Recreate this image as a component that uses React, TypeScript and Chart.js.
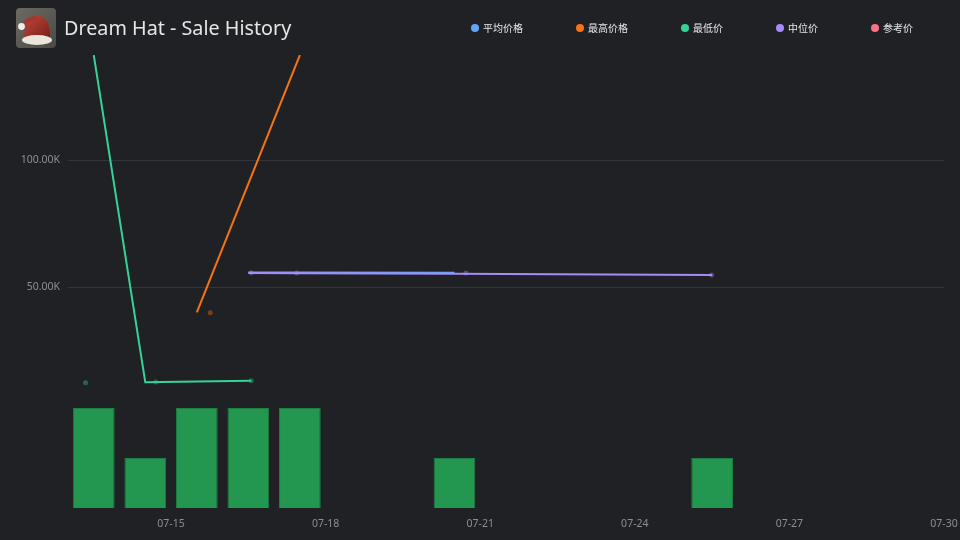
import React, { useEffect, useRef } from "react";
import { Chart, registerables } from "chart.js";

Chart.register(...registerables);

// ---------- data ----------
const TITLE = "Dream Hat - Sale History";
const seriesLabels = ["平均价格", "最高价格", "最低价", "中位价", "参考价"];
const seriesColors = ["#60a5fa", "#f97316", "#34d399", "#a78bfa", "#fb7185"];

// daily volume (bars), timestamps "MM-DD HH:mm"
const volumeTimes = ["07-13 12:00", "07-14 12:00", "07-15 12:00", "07-16 12:00", "07-17 12:00", "07-20 12:00", "07-25 12:00"];
const volumeValues = [2, 1, 2, 2, 2, 1, 1];

// price lines
const avgTimes = ["07-16 12:00", "07-17 12:00", "07-20 12:00"];
const avgValues = [55750, 55700, 55600];

const maxTimes = ["07-15 12:00", "07-17 12:00"];
const maxValues = [40000, 141300];

const minTimes = ["07-13 12:00", "07-14 12:00", "07-15 12:00", "07-16 13:20"];
const minValues = [141300, 12480, 12800, 13100];

const medTimes = ["07-16 12:00", "07-17 12:00", "07-20 12:00", "07-25 12:00"];
const medValues = [55500, 55400, 55200, 54700];

const refTimes: string[] = [];
const refValues: number[] = [];

// individual sales (faint dots)
const saleMinTimes = ["07-13 08:10", "07-14 16:50", "07-16 13:20"];
const saleMinValues = [12300, 12600, 13100];
const saleMaxTimes = ["07-15 18:15"];
const saleMaxValues = [39900];
const saleMedTimes = ["07-16 13:20", "07-17 10:35", "07-20 17:20", "07-25 11:45"];
const saleMedValues = [55600, 55500, 55500, 54700];

// axes
const xMinDay = 13;
const xMaxDay = 30;
const xTickDays = [15, 18, 21, 24, 27, 30];
const xTickLabels = ["07-15", "07-18", "07-21", "07-24", "07-27", "07-30"];
const yMin = -37000;
const yMax = 141340;
const yTickValues = [50000, 100000];
const volumeMax = 9.06;

// ---------- helpers ----------
function toDay(t: string): number {
  const [md, hm] = t.split(" ");
  const d = parseInt(md.split("-")[1], 10);
  const [h, m] = hm.split(":").map((s) => parseInt(s, 10));
  return d + (h + m / 60) / 24;
}
function pts(times: string[], values: number[]) {
  return times.map((t, i) => ({ x: toDay(t), y: values[i] }));
}
function alpha(hex: string, a: number) {
  const n = parseInt(hex.slice(1), 16);
  return `rgba(${(n >> 16) & 255},${(n >> 8) & 255},${n & 255},${a})`;
}

const BG = "#202124";
const TICK_COLOR = "#8b8e94";
const GRID_COLOR = "#333539";

function HatIcon() {
  return (
    <svg width="40" height="40" viewBox="0 0 40 40">
      <defs>
        <linearGradient id="bgG" x1="0" y1="0" x2="1" y2="1">
          <stop offset="0" stopColor="#6b6a63" />
          <stop offset="1" stopColor="#4a4944" />
        </linearGradient>
        <linearGradient id="hatG" x1="0" y1="0" x2="1" y2="1">
          <stop offset="0" stopColor="#c0463a" />
          <stop offset="1" stopColor="#7a1f18" />
        </linearGradient>
      </defs>
      <rect x="0" y="0" width="40" height="40" rx="4" fill="url(#bgG)" />
      <path d="M8 30 C8 20 12 9 21 8 C29 7 33 14 34 25 L34 31 Z" fill="url(#hatG)" />
      <path d="M21 8 C14 8 9 11 6 16 L8 19 C11 14 15 12 20 12 Z" fill="#a8352b" />
      <ellipse cx="21" cy="32" rx="15" ry="5" fill="#e9e6de" />
      <circle cx="5.5" cy="18.5" r="3.4" fill="#f1eee8" />
    </svg>
  );
}

export default function App() {
  const canvasRef = useRef<HTMLCanvasElement | null>(null);

  useEffect(() => {
    document.body.style.margin = "0";
    document.body.style.background = BG;
    const canvas = canvasRef.current;
    if (!canvas) return;

    const lineDs = (label: string, color: string, data: { x: number; y: number }[], order: number) => ({
      type: "line" as const,
      label,
      data,
      borderColor: color,
      backgroundColor: color,
      borderWidth: 2,
      pointRadius: 0,
      tension: 0,
      yAxisID: "y",
      order,
    });
    const dotDs = (color: string, data: { x: number; y: number }[]) => ({
      type: "scatter" as const,
      label: "_sale",
      data,
      backgroundColor: alpha(color, 0.38),
      borderWidth: 0,
      pointRadius: 2.5,
      showLine: false,
      yAxisID: "y",
      order: 0,
    });

    const chart = new Chart(canvas, {
      type: "line",
      data: {
        datasets: [
          lineDs(seriesLabels[0], seriesColors[0], pts(avgTimes, avgValues), 3),
          lineDs(seriesLabels[1], seriesColors[1], pts(maxTimes, maxValues), 2),
          lineDs(seriesLabels[2], seriesColors[2], pts(minTimes, minValues), 2),
          lineDs(seriesLabels[3], seriesColors[3], pts(medTimes, medValues), 1),
          lineDs(seriesLabels[4], seriesColors[4], pts(refTimes, refValues), 2),
          dotDs(seriesColors[2], pts(saleMinTimes, saleMinValues)),
          dotDs(seriesColors[1], pts(saleMaxTimes, saleMaxValues)),
          dotDs(seriesColors[3], pts(saleMedTimes, saleMedValues)),
          {
            type: "bar" as const,
            label: "_volume",
            data: pts(volumeTimes, volumeValues),
            backgroundColor: "#23964f",
            borderColor: "#1e7f44",
            borderWidth: 1,
            barPercentage: 0.9,
            categoryPercentage: 0.9,
            yAxisID: "y1",
            order: 10,
          } as any,
        ],
      },
      options: {
        animation: false,
        responsive: false,
        maintainAspectRatio: false,
        layout: { padding: { top: 55, right: 16, left: 0, bottom: 0 } },
        plugins: {
          legend: { display: false },
          title: { display: false },
          tooltip: { enabled: false },
        },
        scales: {
          x: {
            type: "linear",
            min: xMinDay,
            max: xMaxDay,
            offset: false,
            grid: { display: false, drawTicks: false },
            border: { display: false },
            afterBuildTicks: (s: any) => {
              s.ticks = xTickDays.map((v) => ({ value: v }));
            },
            afterFit: (s: any) => {
              s.height = 32;
              s.paddingLeft = 0;
              s.paddingRight = 0;
            },
            ticks: {
              color: TICK_COLOR,
              font: { family: "'Noto Sans'", size: 10.5 },
              padding: 10,
              maxRotation: 0,
              autoSkip: false,
              callback: (_v: any, i: number) => xTickLabels[i],
            },
          },
          y: {
            type: "linear",
            position: "left",
            min: yMin,
            max: yMax,
            grid: { color: GRID_COLOR, lineWidth: 1, drawTicks: false },
            border: { display: false },
            afterBuildTicks: (s: any) => {
              s.ticks = yTickValues.map((v) => ({ value: v }));
            },
            afterFit: (s: any) => {
              s.width = 68;
              s.paddingTop = 0;
              s.paddingBottom = 0;
            },
            ticks: {
              color: TICK_COLOR,
              font: { family: "'Noto Sans'", size: 10.5 },
              padding: 8,
              callback: (v: any) => (Number(v) / 1000).toFixed(2) + "K",
            },
          },
          y1: {
            type: "linear",
            display: false,
            min: 0,
            max: volumeMax,
          },
        },
      } as any,
    });
    return () => chart.destroy();
  }, []);

  return (
    <div style={{ position: "relative", width: 960, height: 540, background: BG, overflow: "hidden" }}>
      <canvas ref={canvasRef} width={960} height={540} style={{ position: "absolute", left: 0, top: 0, width: 960, height: 540 }} />
      <div style={{ position: "absolute", left: 16, top: 8, width: 40, height: 40 }}>
        <HatIcon />
      </div>
      <div
        style={{
          position: "absolute",
          left: 64,
          top: 14,
          height: 28,
          lineHeight: "28px",
          fontFamily: "'Noto Sans', sans-serif",
          fontSize: 19.75,
          color: "#e6e6e6",
          whiteSpace: "nowrap",
        }}
      >
        {TITLE}
      </div>
      <div
        style={{
          position: "absolute",
          left: 471,
          top: 20,
          height: 16,
          display: "flex",
          alignItems: "center",
          gap: 53,
        }}
      >
        {seriesLabels.map((l, i) => (
          <div key={l} style={{ display: "flex", alignItems: "center" }}>
            <span
              style={{
                display: "inline-block",
                width: 8,
                height: 8,
                borderRadius: 4,
                background: seriesColors[i],
                marginRight: 4,
              }}
            />
            <span style={{ fontFamily: "'Noto Sans CJK SC', sans-serif", fontSize: 10, color: "#e5e7eb", lineHeight: "16px" }}>
              {l}
            </span>
          </div>
        ))}
      </div>
    </div>
  );
}
